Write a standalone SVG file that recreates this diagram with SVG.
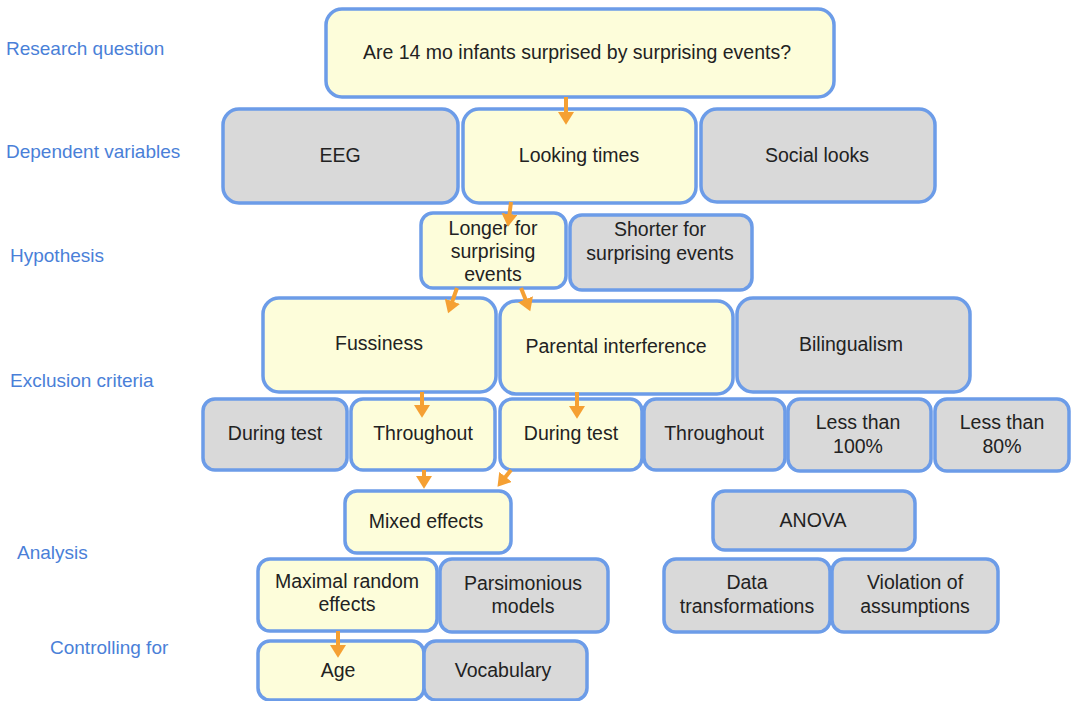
<svg xmlns="http://www.w3.org/2000/svg" width="1072" height="701" viewBox="0 0 1072 701">
<style>
.y{fill:#fdfdda;stroke:#6c9ce8;stroke-width:3.5}
.g{fill:#d9d9d9;stroke:#6c9ce8;stroke-width:3.5}
.t{font-family:"Liberation Sans",Arial,sans-serif;font-size:19.5px;fill:#222;text-anchor:middle}
.l{font-family:"Liberation Sans",Arial,sans-serif;font-size:19px;fill:#4a7fd8}
.a{stroke:#f5a033;stroke-width:4;fill:none;marker-end:url(#ah)}
</style>
<defs>
<marker id="ah" markerWidth="4" markerHeight="4" refX="1" refY="2" orient="auto" markerUnits="strokeWidth">
<path d="M0,0 L3.2,2 L0,4 z" fill="#f5a033"/>
</marker>
</defs>
<rect width="1072" height="701" fill="#fff"/>
<g id="labels">
<text class="l" x="6" y="55">Research question</text>
<text class="l" x="6" y="158">Dependent variables</text>
<text class="l" x="10" y="262">Hypothesis</text>
<text class="l" x="10" y="387">Exclusion criteria</text>
<text class="l" x="17" y="559">Analysis</text>
<text class="l" x="50" y="654">Controlling for</text>
</g>
<g id="rq"><rect class="y" x="326" y="9" width="508" height="88" rx="16"/><text class="t" x="577" y="59">Are 14 mo infants surprised by surprising events?</text></g>
<g id="eeg"><rect class="g" x="223" y="109" width="235" height="94" rx="16"/><text class="t" x="340" y="162">EEG</text></g>
<g id="lt"><rect class="y" x="463" y="109" width="233" height="94" rx="16"/><text class="t" x="579" y="162">Looking times</text></g>
<g id="sl"><rect class="g" x="701" y="109" width="234" height="93" rx="16"/><text class="t" x="817" y="162">Social looks</text></g>
<g id="longer"><rect class="y" x="421" y="213" width="145" height="75" rx="12"/><text class="t" x="493" y="235">Longer for</text><text class="t" x="493" y="258">surprising</text><text class="t" x="493" y="281">events</text></g>
<g id="shorter"><rect class="g" x="570" y="215" width="182" height="75" rx="12"/><text class="t" x="660" y="236">Shorter for</text><text class="t" x="660" y="260">surprising events</text></g>
<g id="fuss"><rect class="y" x="263" y="298" width="233" height="94" rx="16"/><text class="t" x="379" y="350">Fussiness</text></g>
<g id="parent"><rect class="y" x="500" y="301" width="233" height="93" rx="16"/><text class="t" x="616" y="353">Parental interference</text></g>
<g id="bil"><rect class="g" x="737" y="298" width="233" height="94" rx="16"/><text class="t" x="851" y="351">Bilingualism</text></g>
<g id="dt1"><rect class="g" x="203" y="399" width="144" height="71" rx="12"/><text class="t" x="275" y="440">During test</text></g>
<g id="th1"><rect class="y" x="351" y="399" width="144" height="71" rx="12"/><text class="t" x="423" y="440">Throughout</text></g>
<g id="dt2"><rect class="y" x="500" y="399" width="142" height="71" rx="12"/><text class="t" x="571" y="440">During test</text></g>
<g id="th2"><rect class="g" x="644" y="399" width="141" height="71" rx="12"/><text class="t" x="714" y="440">Throughout</text></g>
<g id="l100"><rect class="g" x="788" y="399" width="143" height="72" rx="12"/><text class="t" x="858" y="429">Less than</text><text class="t" x="858" y="453">100%</text></g>
<g id="l80"><rect class="g" x="935" y="399" width="134" height="72" rx="12"/><text class="t" x="1002" y="429">Less than</text><text class="t" x="1002" y="453">80%</text></g>
<g id="mixed"><rect class="y" x="345" y="491" width="166" height="62" rx="12"/><text class="t" x="426" y="528">Mixed effects</text></g>
<g id="anova"><rect class="g" x="713" y="491" width="202" height="59" rx="12"/><text class="t" x="813" y="527">ANOVA</text></g>
<g id="maximal"><rect class="y" x="258" y="559" width="179" height="72" rx="12"/><text class="t" x="347" y="588">Maximal random</text><text class="t" x="347" y="611">effects</text></g>
<g id="pars"><rect class="g" x="440" y="559" width="168" height="73" rx="12"/><text class="t" x="523" y="590">Parsimonious</text><text class="t" x="523" y="613">models</text></g>
<g id="datat"><rect class="g" x="664" y="559" width="166" height="73" rx="12"/><text class="t" x="747" y="589">Data</text><text class="t" x="747" y="613">transformations</text></g>
<g id="viol"><rect class="g" x="832" y="559" width="166" height="73" rx="12"/><text class="t" x="915" y="589">Violation of</text><text class="t" x="915" y="613">assumptions</text></g>
<g id="age"><rect class="y" x="258" y="641" width="166" height="59" rx="12"/><text class="t" x="338" y="677">Age</text></g>
<g id="vocab"><rect class="g" x="424" y="641" width="163" height="59" rx="12"/><text class="t" x="503" y="677">Vocabulary</text></g>
<g id="connectors">
<path class="a" d="M566,97 L566,116"/>
<path class="a" d="M511,202 L509,218"/>
<path class="a" d="M457,288 L451,305"/>
<path class="a" d="M521,288 L527,303"/>
<path class="a" d="M422,392 L422,409"/>
<path class="a" d="M577,392 L577,410"/>
<path class="a" d="M424,470 L424,480"/>
<path class="a" d="M511,470 L503,480"/>
<path class="a" d="M338,631 L338,649"/>
</g>
</svg>
